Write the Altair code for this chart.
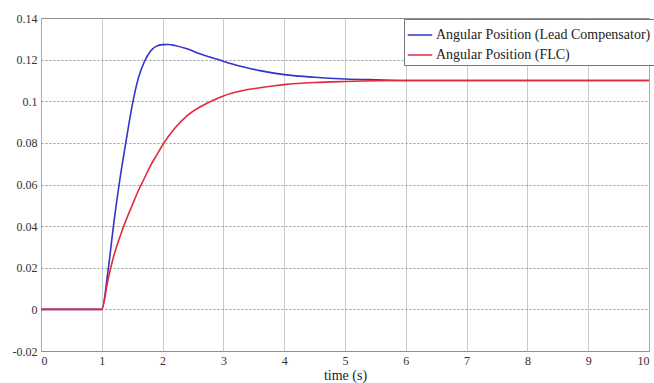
import altair as alt
import pandas as pd

# time (s) and angular position readings
t_lead = [0, 1.0, 1.1, 1.2, 1.3, 1.4, 1.5, 1.6, 1.7, 1.8, 1.9, 2.0, 2.1, 2.2, 2.4, 2.6, 2.8,
          3.0, 3.3, 3.6, 4.0, 4.5, 5.0, 5.5, 6.0, 7.0, 8.0, 9.0, 10.0]
y_lead = [0, 0, 0.018, 0.042, 0.063, 0.081, 0.098, 0.111, 0.119, 0.124, 0.1265, 0.1272, 0.1273,
          0.1268, 0.1252, 0.1230, 0.1210, 0.1192, 0.1167, 0.1147, 0.1128, 0.1115, 0.1107, 0.1103,
          0.110, 0.110, 0.110, 0.110, 0.110]

t_flc = [0, 1.0, 1.1, 1.2, 1.3, 1.4, 1.5, 1.6, 1.7, 1.8, 1.9, 2.0, 2.2, 2.4, 2.6, 2.8, 3.0,
         3.3, 3.6, 4.0, 4.5, 5.0, 6.0, 7.0, 8.0, 9.0, 10.0]
y_flc = [0, 0, 0.014, 0.026, 0.035, 0.043, 0.050, 0.057, 0.063, 0.069, 0.074, 0.079, 0.087,
         0.093, 0.097, 0.100, 0.1025, 0.105, 0.1065, 0.108, 0.109, 0.1095, 0.110, 0.110, 0.110,
         0.110, 0.110]

series_names = ["Angular Position (Lead Compensator)", "Angular Position (FLC)"]
series_colors = ["#3333c8", "#e22a3c"]

x_ticks = list(range(0, 11))
y_ticks = [-0.02, 0, 0.02, 0.04, 0.06, 0.08, 0.1, 0.12, 0.14]

df = pd.concat([
    pd.DataFrame({"t": t_lead, "v": y_lead, "s": series_names[0], "o": 0}),
    pd.DataFrame({"t": t_flc, "v": y_flc, "s": series_names[1], "o": 1}),
])

FONT = "Times New Roman, Liberation Serif, DejaVu Serif, serif"

chart = alt.Chart(df).mark_line(strokeWidth=1.6, interpolate="monotone").encode(
    x=alt.X("t:Q", scale=alt.Scale(domain=[0, 10], nice=False),
            axis=alt.Axis(values=x_ticks, title="time (s)", format="d")),
    y=alt.Y("v:Q", scale=alt.Scale(domain=[-0.02, 0.14], nice=False),
            axis=alt.Axis(values=y_ticks, title=None,
                          labelExpr="datum.value < 0 ? '-' + format(abs(datum.value), '.2~f') : format(datum.value, '.2~f')")),
    color=alt.Color("s:N", scale=alt.Scale(domain=series_names, range=series_colors),
                    legend=alt.Legend(title=None, orient="none", legendX=363, legendY=1,
                                      symbolType="stroke", symbolSize=600, symbolStrokeWidth=1.5,
                                      labelFont=FONT, labelFontSize=14, labelColor="#222",
                                      fillColor="white", strokeColor="#777", padding=3,
                                      rowPadding=0, labelOffset=3, labelLimit=400)),
    order="o:Q",
    detail="s:N",
).properties(
    width=608, height=333,
    autosize=alt.AutoSizeParams(type="none"),
    padding={"left": 41, "top": 18, "right": 5, "bottom": 32},
    background="white",
).configure_view(
    stroke="#888", strokeWidth=1
).configure_axis(
    labelFont=FONT, titleFont=FONT, labelFontSize=12, titleFontSize=14,
    labelColor="#333", titleColor="#222", titleFontWeight="normal",
    domain=False, ticks=False, gridColor="#b8b8b8", gridWidth=1,
).configure_axisX(
    labelPadding=4, titlePadding=2, gridDash=[1, 0],
).configure_axisY(
    labelPadding=4, gridDash=[2, 2], gridColor="#999",
)

chart.save("out.html", embed_options={"renderer": "svg", "actions": False})
